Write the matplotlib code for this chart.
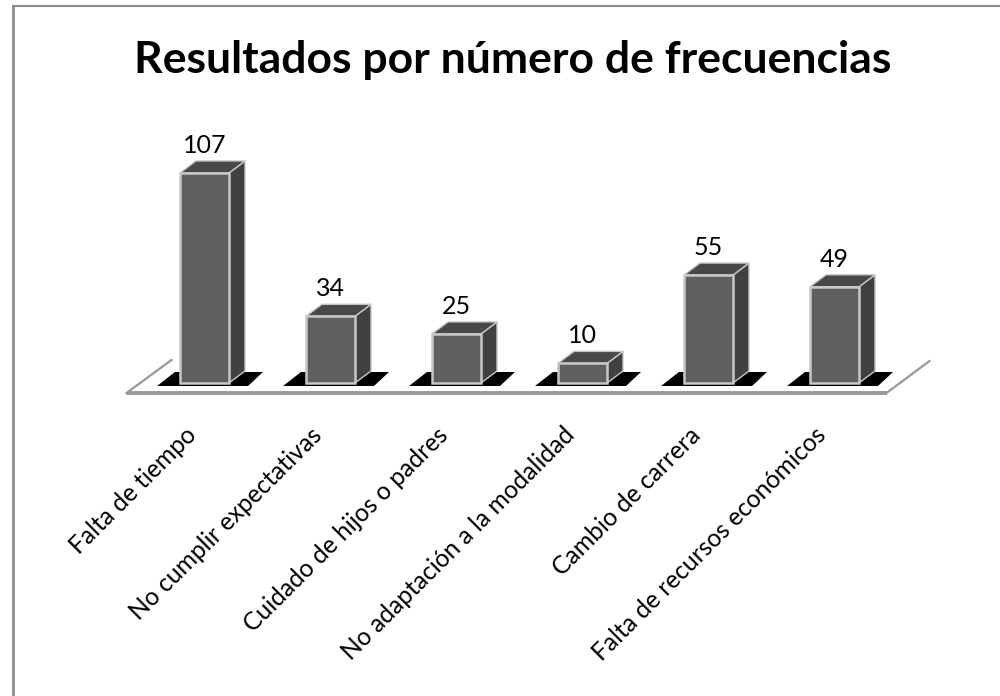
#!/usr/bin/env python3
import matplotlib
matplotlib.use("Agg")
import matplotlib.pyplot as plt
from matplotlib.lines import Line2D
from matplotlib.patches import Polygon

categories = ["Falta de tiempo", "No cumplir expectativas", "Cuidado de hijos o padres",
              "No adaptación a la modalidad", "Cambio de carrera",
              "Falta de recursos económicos"]
values = [107, 34, 25, 10, 55, 49]
title = "Resultados por número de frecuencias"

W, H = 1000, 696
PX_X = 126.0    # pixels per category
PX_Y = 1.963    # pixels per unit
X0, Y0 = 204.5, 383.0   # pixel position of first bar centre / baseline


def dx(px):
    return px / PX_X


def dy(px):
    return px / PX_Y


plt.rcParams["font.family"] = ["Lato", "DejaVu Sans"]
fig = plt.figure(figsize=(W / 100, H / 100), dpi=100)
ax = fig.add_axes([0, 0, 1, 1])
ax.set_xlim(-X0 / PX_X, (W - X0) / PX_X)
ax.set_ylim(-(H - Y0) / PX_Y, Y0 / PX_Y)
ax.axis("off")

xs = list(range(len(values)))
bw = dx(49)
front, side, cap, edge = "#5f5f5f", "#404040", "#484848", "#c8c8c8"

# floor
floor = "#999999"
fl, fr = xs[0] - dx(78), xs[-1] + dx(52)
ax.plot([fl, fr], [dy(-10), dy(-10)], color=floor, lw=2.8, solid_capstyle="butt", zorder=1)
ax.plot([fl + dx(45), fl], [dy(23), dy(-10)], color=floor, lw=1.6, zorder=1)
ax.plot([fr, fr + dx(43)], [dy(-10), dy(22)], color=floor, lw=1.6, zorder=1)

for x, v in zip(xs, values):
    left = x - bw / 2
    right = x + bw / 2
    # black shadow under each bar
    ax.add_patch(Polygon([(left - dx(23), dy(-3)), (left + dx(68), dy(-3)),
                          (left + dx(83), dy(11)), (left - dx(5), dy(11))],
                         fc="black", ec="none", zorder=2))
    ax.add_patch(Polygon([(right, 0), (right + dx(16), dy(12)),
                          (right + dx(16), v + dy(12)), (right, v)],
                         fc=side, ec=edge, lw=1.0, zorder=3))
    ax.add_patch(Polygon([(left, v), (right, v), (right + dx(16), v + dy(12)),
                          (left + dx(16), v + dy(12))],
                         fc=cap, ec=edge, lw=1.0, zorder=3))
    ax.bar(x, v, width=bw, color=front, edgecolor=edge, linewidth=1.8, zorder=4)
    ax.text(x, v + dy(20), str(v), ha="center", va="baseline",
            fontsize=18, color="black", zorder=5)

for x, name in zip(xs, categories):
    ax.text(x - dx(20), dy(-40), name, rotation=45, rotation_mode="anchor",
            ha="right", va="top", fontsize=17.7, color="black")

fig.text(513 / W, 1 - 73 / H, title, ha="center", va="baseline",
         fontsize=32, fontweight="bold", color="black")

# chart frame, only top and left fall inside the picture
frame = "#8c8c8c"
fig.add_artist(Line2D([12.5 / W, 12.5 / W], [0, 1 - 5 / H], color=frame, lw=2.0,
                      solid_capstyle="butt"))
fig.add_artist(Line2D([11.5 / W, 1], [1 - 6 / H, 1 - 6 / H], color=frame, lw=1.5,
                      solid_capstyle="butt"))

fig.savefig("out.png", dpi=100)
